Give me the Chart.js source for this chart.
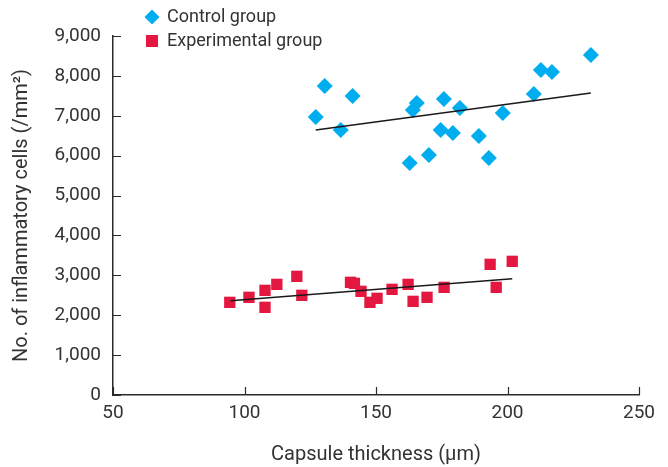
<!DOCTYPE html>
<html>
<head>
<meta charset="utf-8">
<script src="https://cdn.jsdelivr.net/npm/chart.js@4/dist/chart.umd.min.js"></script>
<style>
html,body{margin:0;padding:0;background:#fff;}
#wrap{width:668px;height:467px;}
</style>
</head>
<body>
<div id="wrap"><canvas id="c" width="668" height="467"></canvas></div>
<script>
// Data
const controlX = [127.1, 130.5, 136.6, 141.1, 162.8, 164.0, 165.5, 170.1, 174.6, 175.8, 179.2, 181.9, 189.1, 192.9, 198.2, 210.0, 212.7, 216.9, 231.7];
const controlY = [6967, 7744, 6642, 7494, 5815, 7143, 7318, 6015, 6642, 7419, 6566, 7193, 6491, 5940, 7068, 7544, 8145, 8095, 8521];
const expX = [94.4, 101.7, 107.8, 107.8, 112.3, 119.9, 121.8, 140.3, 141.8, 144.3, 147.7, 150.4, 156.1, 162.2, 164.1, 169.4, 175.9, 193.4, 195.7, 201.8];
const expY = [2323, 2449, 2624, 2198, 2774, 2975, 2499, 2825, 2799, 2599, 2323, 2424, 2649, 2774, 2348, 2449, 2699, 3276, 2699, 3351];
const controlTrendX = [127.1, 231.7];
const controlTrendY = [6642, 7569];
const expTrendX = [94.7, 201.8];
const expTrendY = [2363, 2915];
const seriesNames = ['Control group', 'Experimental group'];
const xTitle = 'Capsule thickness (μm)';
const yTitle = 'No. of inflammatory cells (/mm²)';

const toPts = (xs, ys) => xs.map((x, i) => ({x: x, y: ys[i]}));

const BLUE = '#00ADEE';
const RED = '#E3173F';
const AXIS = '#2b2b2b';
const TEXT = '#333333';
const FONT = 'Roboto, "Liberation Sans", sans-serif';

const innerTicks = {
  id: 'innerTicks',
  afterDraw(chart) {
    const ctx = chart.ctx;
    const xs = chart.scales.x, ys = chart.scales.y;
    const a = chart.chartArea;
    ctx.save();
    ctx.strokeStyle = AXIS;
    ctx.lineWidth = 1.2;
    ctx.beginPath();
    ys.ticks.forEach(t => {
      const py = Math.round(ys.getPixelForValue(t.value)) + 0.5;
      ctx.moveTo(a.left, py);
      ctx.lineTo(a.left + 8, py);
    });
    xs.ticks.forEach(t => {
      const px = Math.round(xs.getPixelForValue(t.value)) + 0.5;
      ctx.moveTo(px, a.bottom);
      ctx.lineTo(px, a.bottom - 8);
    });
    ctx.stroke();
    // legend
    const ds = chart.data.datasets;
    ctx.font = '18px ' + FONT;
    ctx.textBaseline = 'middle';
    const items = [{d: ds[0], y: 17}, {d: ds[1], y: 41}];
    items.forEach(it => {
      const cx = 152;
      ctx.fillStyle = it.d.backgroundColor;
      ctx.beginPath();
      if (it.d.pointStyle === 'rectRot') {
        const r = 7.5;
        ctx.moveTo(cx - r, it.y); ctx.lineTo(cx, it.y - r); ctx.lineTo(cx + r, it.y); ctx.lineTo(cx, it.y + r);
        ctx.closePath();
      } else {
        ctx.rect(cx - 6, it.y - 6, 12, 12);
      }
      ctx.fill();
      ctx.fillStyle = TEXT;
      ctx.fillText(it.d.label, 167, it.y);
    });
    ctx.restore();
  }
};

new Chart(document.getElementById('c'), {
  type: 'scatter',
  data: {
    datasets: [
      {label: seriesNames[0], data: toPts(controlX, controlY), backgroundColor: BLUE, borderColor: BLUE, borderWidth: 0, pointStyle: 'rectRot', pointRadius: 8, pointHoverRadius: 8, order: 2},
      {label: seriesNames[1], data: toPts(expX, expY), backgroundColor: RED, borderColor: RED, borderWidth: 0, pointStyle: 'rect', pointRadius: 8, pointHoverRadius: 8, order: 2},
      {label: 'trend1', data: toPts(controlTrendX, controlTrendY), showLine: true, borderColor: '#1a1a1a', borderWidth: 1.5, pointRadius: 0, order: 1},
      {label: 'trend2', data: toPts(expTrendX, expTrendY), showLine: true, borderColor: '#1a1a1a', borderWidth: 1.5, pointRadius: 0, order: 1}
    ]
  },
  options: {
    responsive: false,
    animation: false,
    layout: {padding: {left: 0, top: 36, right: 29, bottom: 0}},
    plugins: {legend: {display: false}, tooltip: {enabled: false}},
    scales: {
      x: {
        type: 'linear', min: 50, max: 250,
        ticks: {stepSize: 50, color: TEXT, font: {family: FONT, size: 19}, padding: 7},
        grid: {display: true, drawOnChartArea: false, drawTicks: false},
        border: {display: true, color: AXIS, width: 1.5},
        title: {display: true, text: xTitle, color: TEXT, font: {family: FONT, size: 20}, padding: {top: 0, bottom: 0}},
        afterFit(s) { s.height = 72; }
      },
      y: {
        type: 'linear', min: 0, max: 9000,
        ticks: {stepSize: 1000, color: TEXT, font: {family: FONT, size: 19}, padding: 12,
          callback: v => v.toLocaleString('en-US')},
        grid: {display: true, drawOnChartArea: false, drawTicks: false},
        border: {display: true, color: AXIS, width: 1.5},
        title: {display: true, text: yTitle, color: TEXT, font: {family: FONT, size: 20}, padding: {top: 10, bottom: 0}},
        afterFit(s) { s.width = 113; }
      }
    }
  },
  plugins: [innerTicks]
});
</script>
</body>
</html>
